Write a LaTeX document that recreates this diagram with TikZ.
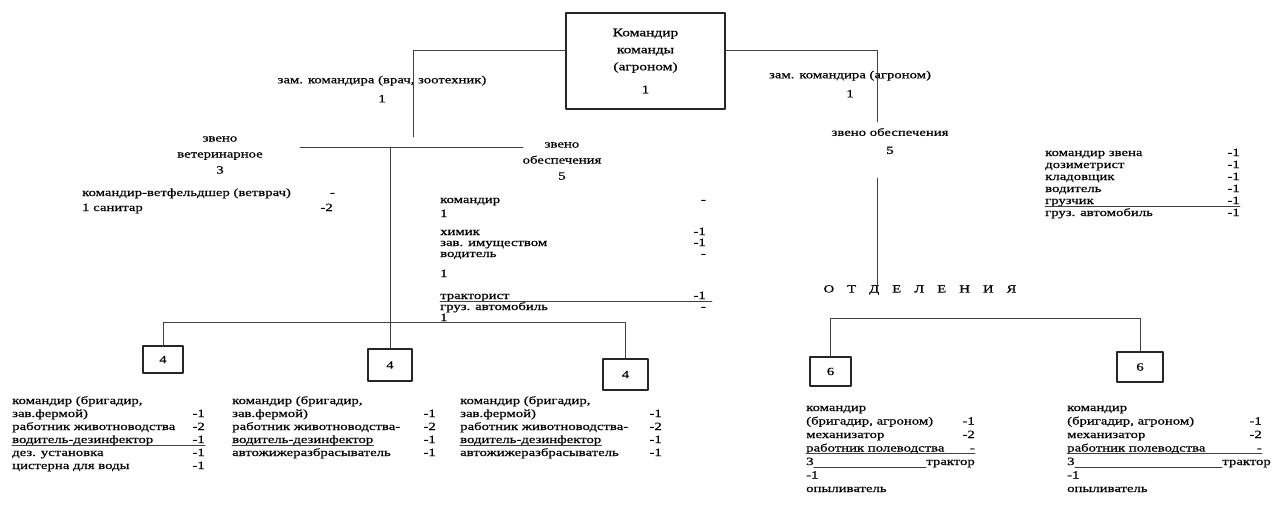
\documentclass[tikz,border=0pt]{standalone}
\usepackage{fontspec}
\setmainfont{Liberation Serif}[FakeStretch=1.34, FakeBold=0.6]
\usetikzlibrary{positioning}

\tikzset{
  unitbox/.style={draw=black!85, line width=1.4pt, inner sep=0pt, font=\fontsize{11}{12}\selectfont},
  link/.style={draw=black!75, line width=0.8pt},
  lbl/.style={font=\fontsize{11}{16}\selectfont, inner sep=0pt, align=center},
  row/.style={font=\fontsize{11}{12}\selectfont, inner sep=0pt, anchor=base west},
  cnt/.style={font=\fontsize{11}{12}\selectfont, inner sep=0pt, anchor=base east},
}

\begin{document}
\begin{tikzpicture}[x=1pt, y=-1pt, line cap=round, line join=round]
  \useasboundingbox (0,0) rectangle (1272,507);

  % commander of the team
  \node[unitbox, minimum width=159pt, minimum height=96pt, align=center,
        font=\fontsize{11.5}{17}\selectfont] (cmd) at (645.5,61)
    {Командир\\команды\\(агроном)\\[6pt]1};

  % deputies
  \node[lbl] (zamvet) at (382,89) {зам. командира (врач, зоотехник)\\[3pt]1};
  \node[lbl] (zamagr) at (850,84) {зам. командира (агроном)\\[3pt]1};

  % links from the commander
  \coordinate (lturn) at (413,50);
  \coordinate (lend) at (413,137);
  \coordinate (rturn) at (877,50);
  \coordinate (rend) at (877,122);
  \draw[link] (cmd.west |- lturn) -- (lturn) -- (lend);
  \draw[link] (cmd.east |- rturn) -- (rturn) -- (rend);

  % left branch
  \coordinate (barl) at (300,147);
  \coordinate (barr) at (523,147);
  \draw[link] (barl) -- (barr);

  % veterinary unit
  \node[lbl] (vet) at (220,155) {звено\\ветеринарное\\3};
  \node[row] (vetr1) at (82,196) {командир-ветфельдшер (ветврач)};
  \node[cnt] (vetn1) at (335,196) {-};
  \node[row] (vetr2) at (82,211) {1 санитар};
  \node[cnt] (vetn2) at (333,211) {-2};

  % supply unit
  \node[lbl] (sup) at (562,161) {звено\\обеспечения\\5};
  \foreach \y/\what/\cnt [count=\i] in {203/командир/-, 217/1/, 235/химик/-1,
      246/зав. имуществом/-1, 257/водитель/-, 277/1/, 299/тракторист/-1,
      310/груз. автомобиль/-, 321/1/}{
    \node[row] (supr\i) at (440,\y) {\what};
    \node[cnt] (supn\i) at (706,\y) {\cnt};
  }
  \draw[link] ([yshift=-2pt]supr7.base west) -- ++(272,0);

  % brigades
  \node[unitbox, minimum width=40pt, minimum height=27pt] (brig1) at (163,359.5) {4};
  \node[unitbox, minimum width=44pt, minimum height=32pt] (brig2) at (390,365) {4};
  \node[unitbox, minimum width=45pt, minimum height=31pt] (brig3) at (625.5,374.5) {4};
  \coordinate (bbar) at (brig3.north |- 0,322);
  \draw[link] (brig1.north) |- (bbar) -- (brig3.north);
  \draw[link] (brig2.north |- barl) -- (brig2.north);

  \foreach \y/\what/\cnt [count=\i] in {404/{командир (бригадир,}/, 417/{зав.фермой)}/-1,
      430/работник животноводства/-2, 443/водитель-дезинфектор/-1,
      456/дез. установка/-1, 469/цистерна для воды/-1}{
    \node[row] (bla\i) at (12,\y) {\what};
    \node[cnt] (bln\i) at (205,\y) {\cnt};
  }
  \draw[link] ([yshift=-2pt]bla4.base west) -- ([yshift=-2pt]bln4.base east);

  \foreach \y/\what/\cnt [count=\i] in {404/{командир (бригадир,}/, 417/{зав.фермой)}/-1,
      430/работник животноводства-/-2, 443/водитель-дезинфектор/-1,
      456/автожижеразбрасыватель/-1}{
    \node[row] (blb\i) at (232,\y) {\what};
    \node[cnt] (blbn\i) at (436,\y) {\cnt};
    \node[row] (blc\i) at (460,\y) {\what};
    \node[cnt] (blcn\i) at (662,\y) {\cnt};
  }
  \draw[link] ([yshift=-2pt]blb4.base west) -- ([yshift=-2pt]blb4.base east);
  \draw[link] ([yshift=-2pt]blc4.base west) -- ([yshift=-2pt]blc4.base east);

  % right branch
  \node[lbl] (supagr) at (890,141) {звено обеспечения\\[2pt]5};
  \node[row, anchor=center] (otd) at (920,290)
    {О\hspace{13pt}Т\hspace{13pt}Д\hspace{13pt}Е\hspace{13pt}Л\hspace{13pt}Е\hspace{13pt}Н\hspace{13pt}И\hspace{13pt}Я};
  \coordinate (otop) at (877,178);
  \draw[link] (otop) -- (otop |- otd.north);

  % staff of the supply unit
  \foreach \y/\what/\cnt [count=\i] in {156/командир звена/-1, 168/дозиметрист/-1,
      180/кладовщик/-1, 192/водитель/-1, 204/грузчик/-1, 216/груз. автомобиль/-1}{
    \node[row] (stf\i) at (1045,\y) {\what};
    \node[cnt] (stfn\i) at (1240,\y) {\cnt};
  }
  \draw[link] ([yshift=-2pt]stf5.base west) -- ([yshift=-2pt]stf5.base west -| stfn5.east);

  % departments
  \node[unitbox, minimum width=41pt, minimum height=29pt] (depa) at (830.5,371.5) {6};
  \node[unitbox, minimum width=46pt, minimum height=30pt] (depb) at (1140,367) {6};
  \coordinate (dbar) at (depb.north |- 0,318);
  \draw[link] (depa.north) |- (dbar) -- (depb.north);

  \foreach \x/\r/\k/\tr in {806/975/a/975, 1067/1262/b/1271}{
    \foreach \y/\what/\cnt [count=\i] in {411/командир/, 424.5/{(бригадир, агроном)}/-1,
        438/механизатор/-2, 451.5/работник полеводства/-, 465/3/, 478.5/-1/,
        492/опыливатель/}{
      \node[row] (dep\k r\i) at (\x,\y) {\what};
      \node[cnt] (dep\k n\i) at (\r,\y) {\cnt};
    }
    \node[cnt] (dep\k tr) at (\tr,465) {трактор};
    \draw[link] ([yshift=-2pt]dep\k r4.base west) -- ([yshift=-2pt]dep\k r4.base west -| dep\k n4.east);
    \draw[link] ([yshift=-2pt]dep\k r5.base east) -- ([yshift=-2pt]dep\k tr.base west);
  }
\end{tikzpicture}
\end{document}
